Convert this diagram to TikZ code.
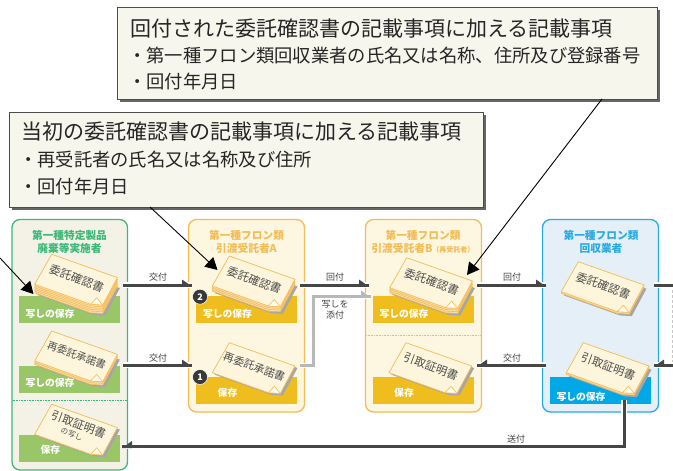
\documentclass[tikz,border=0pt]{standalone}
\usepackage{fontspec}
\setmainfont{Noto Sans CJK JP}
\usetikzlibrary{arrows.meta,shadows}
\definecolor{gpanel}{HTML}{F4F2E6}\definecolor{gborder}{HTML}{3CB878}
\definecolor{ypanel}{HTML}{FDF7E1}\definecolor{yborder}{HTML}{F3BC57}
\definecolor{bpanel}{HTML}{E5EFF7}\definecolor{bborder}{HTML}{29ABE2}
\definecolor{gbar}{HTML}{99C667}\definecolor{ybar}{HTML}{EFBE1E}\definecolor{bbar}{HTML}{00A8E8}
\definecolor{sheetf}{HTML}{FDF6DC}\definecolor{layerf}{HTML}{FBDDA6}
\definecolor{flowc}{HTML}{464646}\definecolor{boxf}{HTML}{F6F6EC}
\tikzset{
 x=1pt,y=-1pt,
 panel/.style={draw=#1,line width=1.3pt,rounded corners=8pt},
 bar/.style={fill=#1,draw=none},
 ptitle/.style={font=\bfseries\fontsize{10.7}{13.4}\selectfont,align=center,text=#1,inner sep=0pt},
 barlabel/.style={font=\bfseries\fontsize{9.8}{12}\selectfont,text=white,inner sep=0pt},
 flowlabel/.style={font=\fontsize{9}{11}\selectfont,text=black!75,inner sep=0pt,align=center},
 flow/.style={draw=flowc,line width=3pt,preaction={draw=white,line width=5.5pt}},
 copyflow/.style={draw=black!28,line width=3pt,preaction={draw=white,line width=5.5pt}},
 leader/.style={draw=black,line width=0.9pt,-{Triangle[length=12pt,width=13pt]}},
 callout/.style={draw=black!70,fill=boxf,line width=0.8pt,drop shadow={shadow xshift=3pt,shadow yshift=-3pt,fill=black!60,opacity=1}},
 chead/.style={font=\fontsize{21}{24}\selectfont,anchor=west,inner sep=0pt,text=black!85},
 cline/.style={font=\fontsize{18.3}{22}\selectfont,anchor=west,inner sep=0pt,text=black!85},
 badge/.style={circle,fill=black!78,draw=white,line width=0.5pt,text=white,minimum size=15pt,inner sep=0pt,font=\bfseries\fontsize{9}{10}\selectfont},
 sheetlabel/.style={rotate=-20,font=\fontsize{#1}{#1}\selectfont,text=black!70,inner sep=0pt,align=center},
}
% half arrowheads: tip at the coordinate, flat side on the lower edge of the line
\newcommand{\headright}[2][flowc]{\fill[#1] ([shift={(0,1.5)}]#2) -- ([shift={(-10,1.5)}]#2) -- ([shift={(-10,-5.5)}]#2) -- cycle;}
\newcommand{\headleft}[2][flowc]{\fill[#1] ([shift={(0,1.5)}]#2) -- ([shift={(10,1.5)}]#2) -- ([shift={(10,-5.5)}]#2) -- cycle;}
% name, x, y, layers, text, font size
\newcommand{\sheetdoc}[6]{%
 \begin{scope}[shift={(#2,#3)}]
  \fill[black!35,shift={(2.5,{2+1.7*#4})}] (0,0) -- (65.7,23.3) -- (51,50.7) -- (39,50) -- (-17,30) -- cycle;
  \ifnum#4>0
  \foreach \i in {#4,...,1}{
   \draw[draw=yborder,fill=layerf,line width=0.6pt,shift={(0,{1.7*\i})}] (0,0) -- (65.7,23.3) -- (51,50.7) -- (39,50) -- (-17,30) -- cycle;}
  \fi
  \draw[draw=yborder,fill=sheetf,line width=0.7pt] (0,0) -- (65.7,23.3) -- (51,50.7) -- (39,50) -- (-17,30) -- cycle;
  \draw[draw=yborder,fill=white!70!sheetf,line width=0.6pt] (39,50) -- (45,43.5) -- (51,50.7) -- cycle;
  \node[sheetlabel=#6] (#1) at (25,24) {#5};
 \end{scope}}
\begin{document}
\begin{tikzpicture}
\useasboundingbox (0,0) rectangle (673,471);
% panels
\filldraw[panel=gborder,fill=gpanel] (12,219.5) rectangle (127.5,470);
\filldraw[panel=yborder,fill=ypanel] (188.5,219.5) rectangle (304.5,412);
\filldraw[panel=yborder,fill=ypanel] (365.5,219.5) rectangle (481.5,412);
\filldraw[panel=bborder,fill=bpanel] (542.5,219.5) rectangle (658.5,412);
\draw[gborder,densely dotted,line width=0.6pt] (12.5,400.5) -- (127,400.5);
\draw[yborder,densely dotted,line width=0.6pt] (366,335) -- (481,335);
% titles
\node[ptitle=gborder] (t1) at (69.5,241.7) {第一種特定製品\\廃棄等実施者};
\node[ptitle=yborder] (t2) at (246.5,241.7) {第一種フロン類\\引渡受託者A};
\node[ptitle=yborder] (t3) at (423,241.7) {第一種フロン類\\引渡受託者B{\fontsize{7}{8}\selectfont（再受託者）}};
\node[ptitle=bborder] (t4) at (601,241.7) {第一種フロン類\\回収業者};
% bars
\fill[bar=gbar] (19,296) rectangle (120,322.7);
\fill[bar=gbar] (19,366) rectangle (120,392.7);
\fill[bar=gbar] (19,435) rectangle (120,461.7);
\fill[bar=ybar] (196,296) rectangle (297,322.7);
\fill[bar=ybar] (196,377) rectangle (297,403.7);
\fill[bar=ybar] (373,296) rectangle (474,322.7);
\fill[bar=ybar] (373,377) rectangle (474,403.7);
\fill[bar=bbar] (550,377) rectangle (651,403.7);
% dashed edge at right
\draw[black!22,densely dashed,line width=0.5pt] (672.5,285) -- (672.5,365);
% connector ends
\coordinate (g1) at (123,285); \coordinate (a1) at (192,285);
\coordinate (g2) at (123,365); \coordinate (a2) at (192,365);
\coordinate (a1r) at (300,285); \coordinate (b1) at (369,285);
\coordinate (b1r) at (477,285); \coordinate (c1) at (546,285);
\coordinate (c1r) at (654,285); \coordinate (e1) at (673,285);
\coordinate (e2) at (673,365); \coordinate (c2r) at (654,365);
\coordinate (c2) at (546,365); \coordinate (b2r) at (477,365);
\coordinate (a2r) at (300,365.5); \coordinate (a2j) at (313,365.5); \coordinate (bj) at (313,296); \coordinate (b2) at (371,296);
\coordinate (cb) at (624,400); \coordinate (cj) at (624,446.5); \coordinate (g3) at (122,446.5);
% connectors
\draw[copyflow] (a2r) -- (a2j) -- (bj) -- (b2); \headright[black!28]{b2}
\draw[flow] (g1) -- (a1); \headright{a1}
\draw[flow] (g2) -- (a2); \headright{a2}
\draw[flow] (a1r) -- (b1); \headright{b1}
\draw[flow] (b1r) -- (c1); \headright{c1}
\draw[flow] (c1r) -- (e1);
\draw[flow] (c2) -- (b2r); \headleft{b2r}
\draw[flow] (e2) -- (c2r); \headleft{c2r}
\draw[flow] (cb) -- (cj) -- (g3); \headleft{g3}
% documents
\sheetdoc{d1}{51.7}{254.3}{5}{委託確認書}{11.4}
\sheetdoc{d2}{51.7}{331}{2}{再委託承諾書}{10.3}
\sheetdoc{d4}{229.3}{256}{3}{委託確認書}{11.4}
\sheetdoc{d5}{229.3}{342.7}{0}{再委託承諾書}{10.8}
\sheetdoc{d6}{406.7}{257.7}{3}{委託確認書}{11.4}
\sheetdoc{d7}{406}{342.7}{0}{引取証明書}{11.4}
\sheetdoc{d8}{578.3}{261.7}{1}{委託確認書}{11.4}
\sheetdoc{d9}{583.3}{342.7}{1}{引取証明書}{11.4}
\begin{scope}[shift={(51.7,404.3)}]
 \fill[black!35,shift={(2.5,2)}] (0,0) -- (65.7,23.3) -- (51,50.7) -- (39,50) -- (-17,30) -- cycle;
 \draw[draw=yborder,fill=sheetf,line width=0.7pt] (0,0) -- (65.7,23.3) -- (51,50.7) -- (39,50) -- (-17,30) -- cycle;
 \draw[draw=yborder,fill=white!70!sheetf,line width=0.6pt] (39,50) -- (45,43.5) -- (51,50.7) -- cycle;
 \node[sheetlabel=11.4] (d3) at (27,20) {引取証明書};
 \node[sheetlabel=7.5] (d3b) at (20,30) {の写し};
\end{scope}
% bar labels
\node[barlabel] (l1) at (50,314) {写しの保存};
\node[barlabel] (l2) at (50,383) {写しの保存};
\node[barlabel] (l3) at (50.5,450) {保存};
\node[barlabel] (l4) at (227.5,314) {写しの保存};
\node[barlabel] (l5) at (227.5,392.7) {保存};
\node[barlabel] (l6) at (404,314) {写しの保存};
\node[barlabel] (l7) at (404,392.7) {保存};
\node[barlabel] (l8) at (581,396.7) {写しの保存};
% flow labels
\node[flowlabel] (f1) at (158,277.5) {交付};
\node[flowlabel] (f2) at (158,358) {交付};
\node[flowlabel] (f3) at (335,277.5) {回付};
\node[flowlabel] (f4) at (335,310) {写しを\\添付};
\node[flowlabel] (f5) at (512,277.5) {回付};
\node[flowlabel] (f6) at (512,358) {交付};
\node[flowlabel] (f7) at (516,439) {送付};
% badges
\node[badge] (n2) at (200,296.7) {2};
\node[badge] (n1) at (200,377) {1};
% callouts
\path[callout] (117,7) rectangle (657,99);
\path[callout] (9,112) rectangle (483,207);
\coordinate (top) at (602,99); \coordinate (left) at (150,207); \coordinate (off) at (0,258);
\coordinate (ta) at (467,275); \coordinate (tb) at (217.5,270); \coordinate (tc) at (33.5,294);
\draw[leader] (top) -- (ta);
\draw[leader] (left) -- (tb);
\draw[leader] (off) -- (tc);
\node[chead] (h1) at (130,29) {回付された委託確認書の記載事項に加える記載事項};
\node[cline] (h1a) at (128,56) {・第一種フロン類回収業者の氏名又は名称、住所及び登録番号};
\node[cline] (h1b) at (128,82) {・回付年月日};
\node[chead] (h2) at (21,132) {当初の委託確認書の記載事項に加える記載事項};
\node[cline] (h2a) at (19,160) {・再受託者の氏名又は名称及び住所};
\node[cline] (h2b) at (19,187) {・回付年月日};
\end{tikzpicture}
\end{document}
